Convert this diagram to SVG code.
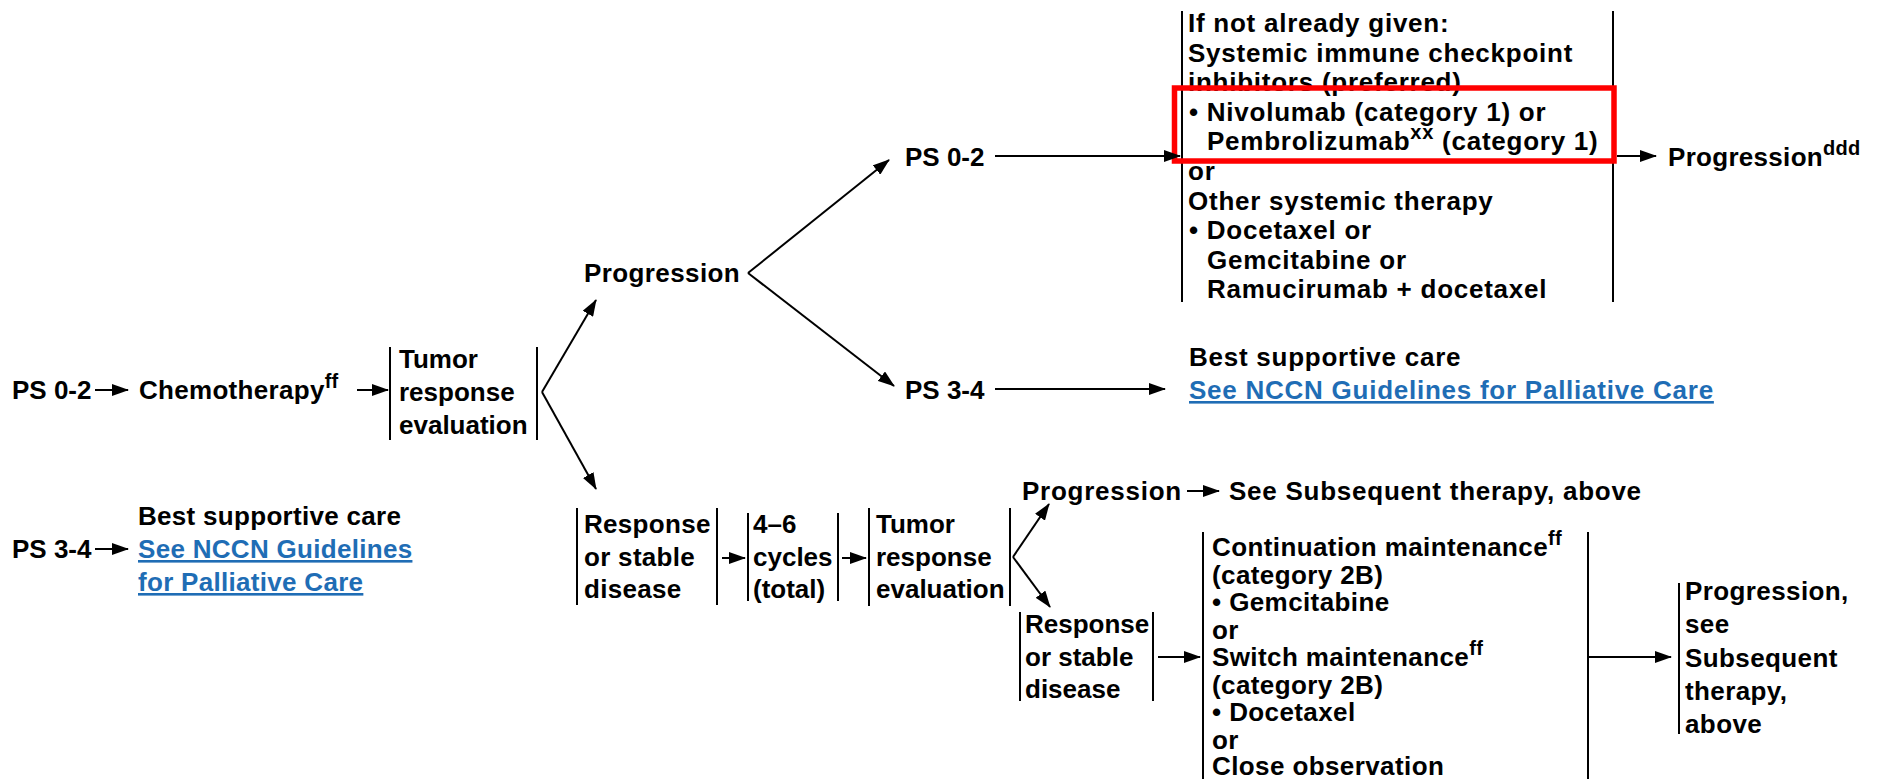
<svg xmlns="http://www.w3.org/2000/svg" width="1879" height="779" viewBox="0 0 1879 779">
<style>
text{font-family:"Liberation Sans",Arial,sans-serif;font-weight:bold;font-size:26px;fill:#000}
.w{letter-spacing:0.4px}
.w2{letter-spacing:0.75px}
.w3{letter-spacing:0.3px}
.lk{fill:#1f6db5;text-decoration:underline}
.sup{font-size:20px}
.bl{stroke:#000;stroke-width:2;fill:none}
.cn{stroke:#000;stroke-width:2;fill:none;marker-end:url(#ah)}
</style>
<defs>
<marker id="ah" markerUnits="userSpaceOnUse" markerWidth="17" markerHeight="12" refX="16" refY="6" orient="auto">
<path d="M0,0 L17,6 L0,12 z" fill="#000"/>
</marker>
</defs>
<rect width="1879" height="779" fill="#fff"/>

<g id="ps02-left"><text x="12" y="399">PS 0-2</text></g>
<g id="chemo" class="w3"><text x="139" y="399">Chemotherapy<tspan class="sup" dy="-11">ff</tspan></text></g>
<g id="tumor1">
<line class="bl" x1="390" y1="347" x2="390" y2="440"/>
<line class="bl" x1="537" y1="347" x2="537" y2="440"/>
<text x="399" y="368">Tumor</text>
<text x="399" y="401">response</text>
<text x="399" y="434">evaluation</text>
</g>
<g id="progression1" class="w"><text x="584" y="282">Progression</text></g>
<g id="ps02-top"><text x="905" y="166">PS 0-2</text></g>
<g id="ps34-mid"><text x="905" y="399">PS 3-4</text></g>
<g id="subsequent-box" class="w2">
<line class="bl" x1="1182" y1="11" x2="1182" y2="302"/>
<line class="bl" x1="1613" y1="11" x2="1613" y2="302"/>
<text x="1188" y="32">If not already given:</text>
<text x="1188" y="61.6">Systemic immune checkpoint</text>
<text x="1188" y="91.2">inhibitors (preferred)</text>
<text x="1189" y="120.8">• Nivolumab (category 1) or</text>
<text x="1207" y="150.4">Pembrolizumab<tspan class="sup" dy="-11">xx</tspan><tspan dy="11"> (category 1)</tspan></text>
<text x="1188" y="180">or</text>
<text x="1188" y="209.6">Other systemic therapy</text>
<text x="1189" y="239.2">• Docetaxel or</text>
<text x="1207" y="268.8">Gemcitabine or</text>
<text x="1207" y="298.4">Ramucirumab + docetaxel</text>
</g>
<g id="highlight"><rect x="1174.5" y="88" width="439.5" height="73" fill="none" stroke="#ff0000" stroke-width="5.5"/></g>
<g id="progression-ddd" class="w3"><text x="1668" y="166">Progression<tspan class="sup" dy="-11">ddd</tspan></text></g>
<g id="bsc-mid" class="w2">
<text x="1189" y="366">Best supportive care</text>
<text x="1189" y="399" class="lk">See NCCN Guidelines for Palliative Care</text>
</g>
<g id="ps34-left"><text x="12" y="558">PS 3-4</text></g>
<g id="bsc-left" class="w3">
<text x="138" y="525">Best supportive care</text>
<text x="138" y="558" class="lk">See NCCN Guidelines</text>
<text x="138" y="591" class="lk">for Palliative Care</text>
</g>
<g id="response1" class="w3">
<line class="bl" x1="577" y1="508" x2="577" y2="605"/>
<line class="bl" x1="717" y1="508" x2="717" y2="605"/>
<text x="584" y="533">Response</text>
<text x="584" y="566">or stable</text>
<text x="584" y="598">disease</text>
</g>
<g id="cycles">
<line class="bl" x1="748" y1="513" x2="748" y2="601"/>
<line class="bl" x1="838" y1="513" x2="838" y2="601"/>
<text x="753" y="533">4–6</text>
<text x="753" y="566">cycles</text>
<text x="753" y="598">(total)</text>
</g>
<g id="tumor2">
<line class="bl" x1="869" y1="508" x2="869" y2="606"/>
<line class="bl" x1="1010" y1="508" x2="1010" y2="606"/>
<text x="876" y="533">Tumor</text>
<text x="876" y="566">response</text>
<text x="876" y="598">evaluation</text>
</g>
<g id="progression2" class="w2"><text x="1022" y="500">Progression</text></g>
<g id="see-subsequent" class="w2"><text x="1229" y="500">See Subsequent therapy, above</text></g>
<g id="response2">
<line class="bl" x1="1020" y1="612" x2="1020" y2="701"/>
<line class="bl" x1="1153" y1="612" x2="1153" y2="701"/>
<text x="1025" y="633">Response</text>
<text x="1025" y="666">or stable</text>
<text x="1025" y="698">disease</text>
</g>
<g id="maintenance-box" class="w">
<line class="bl" x1="1203" y1="532" x2="1203" y2="779"/>
<line class="bl" x1="1588" y1="532" x2="1588" y2="779"/>
<text x="1212" y="556">Continuation maintenance<tspan class="sup" dy="-11">ff</tspan></text>
<text x="1212" y="583.5">(category 2B)</text>
<text x="1212" y="611">• Gemcitabine</text>
<text x="1212" y="638.5">or</text>
<text x="1212" y="666">Switch maintenance<tspan class="sup" dy="-11">ff</tspan></text>
<text x="1212" y="693.5">(category 2B)</text>
<text x="1212" y="721">• Docetaxel</text>
<text x="1212" y="748.5">or</text>
<text x="1212" y="775">Close observation</text>
</g>
<g id="progression-see" class="w">
<line class="bl" x1="1679" y1="583" x2="1679" y2="734"/>
<text x="1685" y="600">Progression,</text>
<text x="1685" y="633">see</text>
<text x="1685" y="667">Subsequent</text>
<text x="1685" y="700">therapy,</text>
<text x="1685" y="733">above</text>
</g>

<g id="connectors">
<line class="cn" x1="95" y1="390" x2="128" y2="390"/>
<line class="cn" x1="357" y1="390" x2="388" y2="390"/>
<line class="cn" x1="95" y1="549" x2="128" y2="549"/>
<line class="cn" x1="542" y1="392" x2="596" y2="300"/>
<line class="cn" x1="542" y1="392" x2="596" y2="489"/>
<line class="cn" x1="748" y1="273" x2="889" y2="160"/>
<line class="cn" x1="748" y1="273" x2="894" y2="386"/>
<line class="cn" x1="995" y1="156" x2="1180" y2="156"/>
<line class="cn" x1="995" y1="389" x2="1165" y2="389"/>
<line class="cn" x1="1617" y1="156" x2="1656" y2="156"/>
<line class="cn" x1="722" y1="558" x2="745" y2="558"/>
<line class="cn" x1="842" y1="558" x2="866" y2="558"/>
<line class="cn" x1="1013" y1="557" x2="1049" y2="504"/>
<line class="cn" x1="1013" y1="557" x2="1050" y2="607"/>
<line class="cn" x1="1187" y1="491" x2="1219" y2="491"/>
<line class="cn" x1="1158" y1="657" x2="1200" y2="657"/>
<line class="cn" x1="1588" y1="657" x2="1671" y2="657"/>
</g>
</svg>
